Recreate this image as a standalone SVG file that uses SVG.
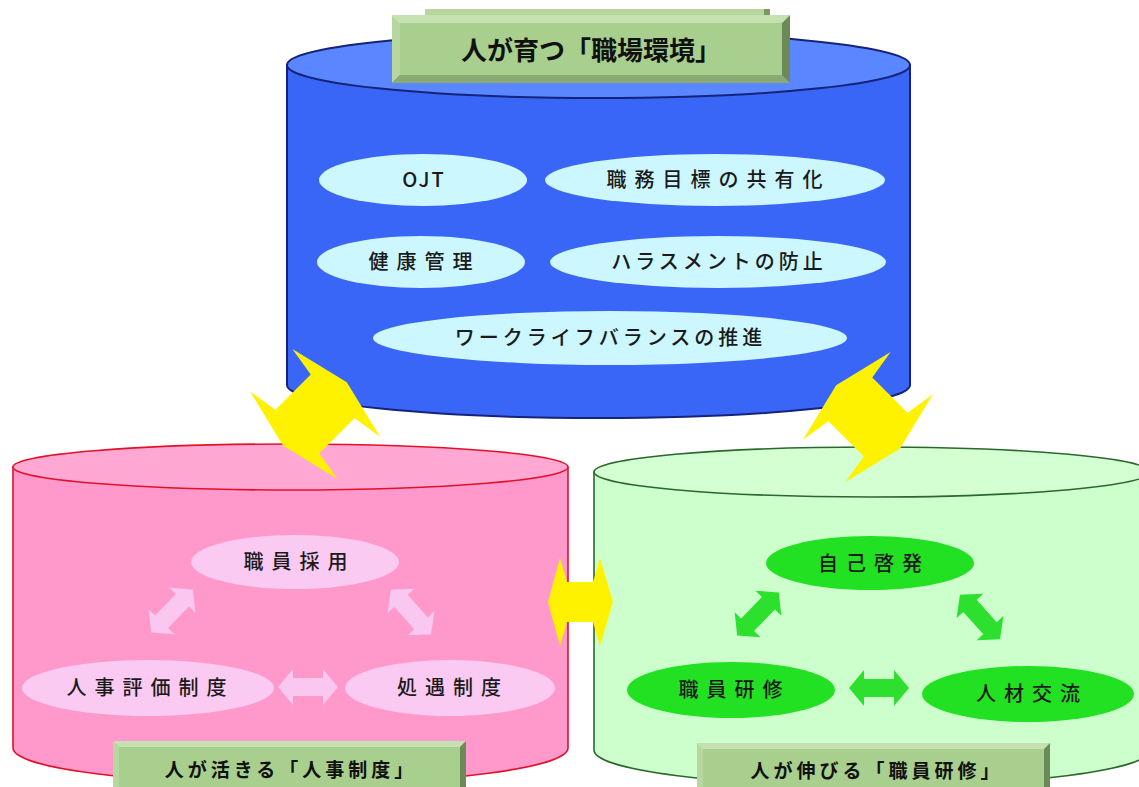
<svg xmlns="http://www.w3.org/2000/svg" width="1139" height="787" viewBox="0 0 1139 787">
<defs>
<style>
.t{font-family:"Noto Sans CJK JP","Noto Sans",sans-serif;font-size:20px;font-weight:500;fill:#1a1a1a;text-anchor:middle}
.lbl{font-family:"Noto Sans CJK JP","Noto Sans",sans-serif;font-weight:700;fill:#111;text-anchor:middle}
.bt{fill:#C6E1B1}.bl{fill:#B7D7A0}.br{fill:#6C8A58}.bb{fill:#8BA973}.bf{fill:#A8CF8D}
.cyl-b{fill:#3A66F7;stroke:#16237A;stroke-width:2}
.top-b{fill:#5A86FF;stroke:#16237A;stroke-width:2}
.cyl-p{fill:#FF99CC;stroke:#E3102A;stroke-width:1.6}
.top-p{fill:#FFA8D3;stroke:#E3102A;stroke-width:1.6}
.cyl-g{fill:#CCFFCC;stroke:#2B682B;stroke-width:1.6}
.top-g{fill:#D3FFD3;stroke:#2B682B;stroke-width:1.6}
.eb{fill:#CCF7FF}.ep{fill:#FACAF2}.eg{fill:#22E022}
.ya{fill:#FFF200}.pa{fill:#F9C7EF}.ga{fill:#2EE02E}
</style>
<path id="bigArrow" d="M-45,0 L-30,-62 L-25,-31 L25,-31 L30,-62 L45,0 L30,62 L25,31 L-25,31 L-30,62 Z"/>
<path id="smallArrow" d="M-30,0 L-15,-18 L-15,-9 L15,-9 L15,-18 L30,0 L15,18 L15,9 L-15,9 L-15,18 Z"/>
</defs>
<rect width="1139" height="787" fill="#FFFFFF"/>

<!-- Blue cylinder -->
<g id="node-workplace">
<path class="cyl-b" d="M287,65 L287,385 A311.5,33 0 0 0 910,385 L910,65 Z"/>
<ellipse class="top-b" cx="598.5" cy="65" rx="311.5" ry="33"/>
<rect x="425" y="9" width="345" height="14" fill="#B6D69E"/>
<polygon points="764,9 770,9 770,23 764,23" fill="#7C9866"/>
<polygon class="bt" points="392,15 790,15 782,23 400,23"/>
<polygon class="bl" points="392,15 400,23 400,75 392,83"/>
<polygon class="br" points="790,15 790,83 782,75 782,23"/>
<polygon class="bb" points="392,83 400,75 782,75 790,83"/>
<rect class="bf" x="400" y="23" width="382" height="52"/>
<text class="lbl" x="591" y="60" font-size="26">人が育つ「職場環境」</text>
</g>
<g id="node-ojt"><ellipse class="eb" cx="423" cy="180" rx="104" ry="26"/><text class="t" x="424" y="187" letter-spacing="2">OJT</text></g>
<g id="node-goal"><ellipse class="eb" cx="715" cy="180" rx="170" ry="26"/><text class="t" x="718.5" y="187" letter-spacing="8">職務目標の共有化</text></g>
<g id="node-health"><ellipse class="eb" cx="421" cy="262" rx="104" ry="26"/><text class="t" x="424.5" y="269" letter-spacing="8">健康管理</text></g>
<g id="node-harass"><ellipse class="eb" cx="718" cy="262" rx="168" ry="26"/><text class="t" x="719" y="269" letter-spacing="4">ハラスメントの防止</text></g>
<g id="node-wlb"><ellipse class="eb" cx="610" cy="338" rx="237" ry="27"/><text class="t" x="610.5" y="345" letter-spacing="4">ワークライフバランスの推進</text></g>

<!-- Pink cylinder -->
<g id="node-personnel">
<path class="cyl-p" d="M13,467 L13,748 A277.5,36 0 0 0 568,748 L568,467 Z"/>
<ellipse class="top-p" cx="290.5" cy="467" rx="277.5" ry="23"/>
</g>
<g id="node-recruit"><ellipse class="ep" cx="295" cy="562" rx="104" ry="27"/><text class="t" x="299.5" y="569" letter-spacing="8">職員採用</text></g>
<g id="node-eval"><ellipse class="ep" cx="148" cy="688" rx="126" ry="28"/><text class="t" x="150.5" y="695" letter-spacing="8">人事評価制度</text></g>
<g id="node-treat"><ellipse class="ep" cx="450" cy="688" rx="105" ry="28"/><text class="t" x="453" y="695" letter-spacing="8">処遇制度</text></g>

<!-- Green cylinder -->
<g id="node-training">
<path class="cyl-g" d="M594,472 L594,750 A278,36 0 0 0 1150,750 L1150,472 Z"/>
<ellipse class="top-g" cx="872" cy="472" rx="278" ry="25"/>
</g>
<g id="node-self"><ellipse class="eg" cx="870" cy="563" rx="104" ry="27"/><text class="t" x="874" y="571" letter-spacing="8">自己啓発</text></g>
<g id="node-staff"><ellipse class="eg" cx="731" cy="690" rx="104" ry="28"/><text class="t" x="734.5" y="697" letter-spacing="8">職員研修</text></g>
<g id="node-exchange"><ellipse class="eg" cx="1028" cy="694" rx="106" ry="28"/><text class="t" x="1032" y="701" letter-spacing="8">人材交流</text></g>

<!-- Bottom labels -->
<g id="label-personnel">
<polygon class="bt" points="113,741 466,741 460,747 119,747"/>
<polygon class="bl" points="113,741 119,747 119,787 113,787"/>
<polygon class="br" points="466,741 466,787 460,787 460,747"/>
<rect class="bf" x="119" y="747" width="341" height="40"/>
<text class="lbl" x="291" y="777" font-size="19" letter-spacing="4">人が活きる「人事制度」</text>
</g>
<g id="label-training">
<polygon class="bt" points="697,743 1050,743 1044,749 703,749"/>
<polygon class="bl" points="697,743 703,749 703,787 697,787"/>
<polygon class="br" points="1050,743 1050,787 1044,787 1044,749"/>
<rect class="bf" x="703" y="749" width="341" height="38"/>
<text class="lbl" x="877" y="778" font-size="19" letter-spacing="4">人が伸びる「職員研修」</text>
</g>

<!-- Connectors -->
<g id="connectors">
<use href="#smallArrow" class="pa" transform="translate(172,611) rotate(-46)"/>
<use href="#smallArrow" class="pa" transform="translate(411,612) rotate(48)"/>
<use href="#smallArrow" class="pa" transform="translate(308,687)"/>
<use href="#smallArrow" class="ga" transform="translate(758,614) rotate(-46)"/>
<use href="#smallArrow" class="ga" transform="translate(980,617) rotate(48)"/>
<use href="#smallArrow" class="ga" transform="translate(879,688)"/>
<use href="#bigArrow" class="ya" transform="translate(315,414) rotate(-45)"/>
<use href="#bigArrow" class="ya" transform="translate(868,417) rotate(45)"/>
<path class="ya" d="M548,602 L560,558 L567,582 L593,582 L600,558 L613,602 L600,646 L593,622 L567,622 L560,646 Z"/>
</g>
</svg>
